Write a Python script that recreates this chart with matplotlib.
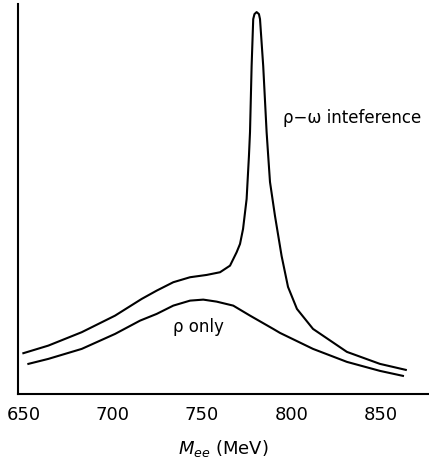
import matplotlib.pyplot as plt

# invariant mass (MeV) and relative yield (arbitrary units)
m_interf = [649.9, 663.9, 682.6, 701.3, 716.2, 724.6, 733.9, 743.3, 752.6, 760.1,
            765.7, 769.4, 771.3, 773.0, 775.0, 776.3, 776.9, 777.8, 778.7, 779.4,
            780.6, 781.9, 782.5, 784.3, 786.2, 787.1, 788.1, 790.9, 794.6, 798.2,
            803.2, 812.2, 831.2, 849.7, 864.2]
y_interf = [40.7, 48.3, 61.7, 78.3, 95, 103.3, 111.7, 116.7, 119, 121.7,
            128.3, 141.7, 150, 165, 195, 238, 262, 328, 375, 380,
            382, 380, 375, 328, 262, 238, 212, 178, 138, 107,
            85, 65, 42, 30, 24]

m_rho = [652.7, 663.9, 682.6, 701.3, 715.3, 724.6, 733.9, 743.3, 750.7, 758.2,
         767.5, 776.9, 789.9, 793.7, 812.2, 831.2, 849.7, 862.6]
y_rho = [30, 35, 45, 60, 73.3, 80, 88.3, 93.3, 94.3, 92.3,
         88.3, 78.3, 65, 61, 45, 32, 23, 18]

xticks = [650, 700, 750, 800, 850]

fig = plt.figure(figsize=(4.29, 4.64), dpi=100)
ax = fig.add_axes([0.042, 0.149, 0.958, 0.84])

ax.plot(m_interf, y_interf, color="black", lw=1.5, solid_joinstyle="round")
ax.plot(m_rho, y_rho, color="black", lw=1.5, solid_joinstyle="round")

ax.set_xlim(646.9, 877.2)
ax.set_ylim(0, 390)
ax.set_xticks(xticks)
ax.set_yticks([])
ax.tick_params(axis="x", length=0, pad=8, labelsize=13)
ax.spines["top"].set_visible(False)
ax.spines["right"].set_visible(False)
ax.spines["left"].set_linewidth(1.5)
ax.spines["bottom"].set_linewidth(1.5)

ax.set_xlabel(r"$M_{ee}$ (MeV)", fontsize=13, labelpad=10)

ax.text(795.4, 277, "ρ−ω inteference", fontsize=12, va="center", ha="left")
ax.text(734, 68, "ρ only", fontsize=12, va="center", ha="left")

fig.savefig("out.png", dpi=100)
